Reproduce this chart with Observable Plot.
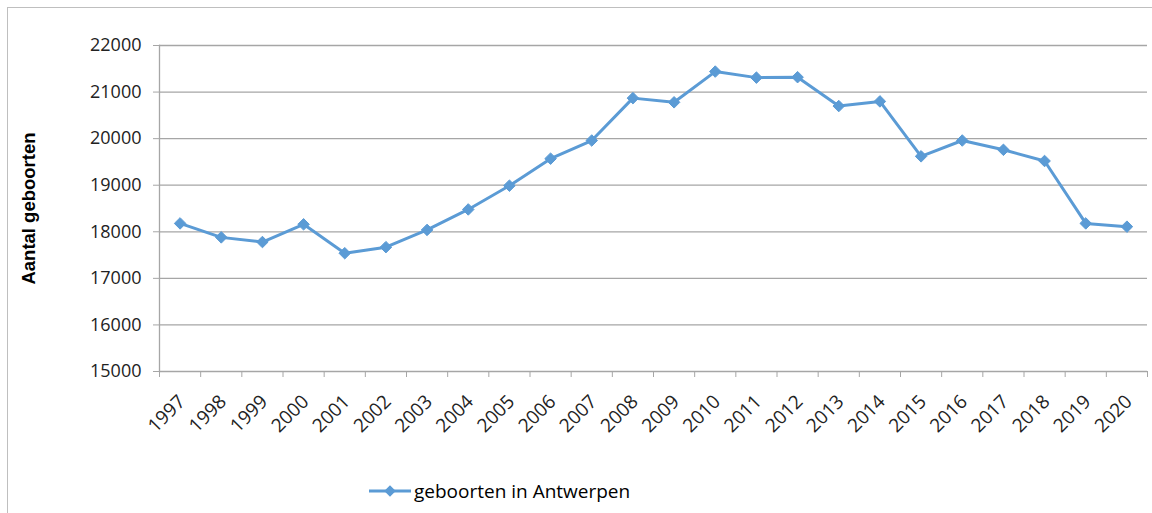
<!DOCTYPE html>
<html>
<head>
<meta charset="utf-8">
<script src="https://cdn.jsdelivr.net/npm/d3@7"></script>
<script src="https://cdn.jsdelivr.net/npm/@observablehq/plot@0.6"></script>
<style>
  html, body { margin: 0; padding: 0; background: #fff; }
  #wrap { position: relative; width: 1152px; height: 513px; overflow: hidden; }
  #frame { position: absolute; left: 7px; top: 7px; width: 1160px; height: 520px; border-left: 1.5px solid #bfbfbf; border-top: 1.5px solid #bfbfbf; box-sizing: border-box; pointer-events: none; }
  #chart { position: absolute; left: 0; top: 0; }
  #legend { position: absolute; left: 368px; top: 478px; display: flex; align-items: center; font-family: "Open Sans", sans-serif; font-size: 19px; color: #000; }
</style>
</head>
<body>
<div id="wrap">
  <div id="chart"></div>
  <div id="frame"></div>
  <div id="legend"></div>
</div>
<script>
const years = [1997, 1998, 1999, 2000, 2001, 2002, 2003, 2004, 2005, 2006, 2007, 2008,
               2009, 2010, 2011, 2012, 2013, 2014, 2015, 2016, 2017, 2018, 2019, 2020];
const births = [18180, 17880, 17780, 18160, 17540, 17670, 18040, 18480, 18990, 19570, 19960, 20870,
                20780, 21440, 21310, 21320, 20700, 20800, 19620, 19960, 19760, 19520, 18180, 18110];
const yTicks = [15000, 16000, 17000, 18000, 19000, 20000, 21000, 22000];
const seriesName = "geboorten in Antwerpen";
const yLabel = "Aantal geboorten";

const data = years.map((year, i) => ({year, value: births[i]}));
const boundaries = d3.range(years[0] - 0.5, years[years.length - 1] + 1, 1);
const blue = "#5b9bd5";
const font = "'Open Sans', sans-serif";

const chart = Plot.plot({
  width: 1152,
  height: 460,
  marginLeft: 159,
  marginRight: 5,
  marginTop: 45,
  marginBottom: 89,
  style: {fontFamily: font, fontSize: "18px", color: "#222", background: "transparent"},
  x: {type: "linear", domain: [boundaries[0], boundaries[boundaries.length - 1]]},
  y: {domain: [15000, 22000]},
  marks: [
    Plot.gridY(yTicks, {stroke: "#a6a6a6", strokeOpacity: 1, strokeWidth: 1.3}),
    Plot.frame({anchor: "left", stroke: "#a6a6a6", strokeWidth: 1.3}),
    Plot.axisY({ticks: yTicks, tickSize: 6, tickPadding: 12, stroke: "#a6a6a6", tickFormat: d => String(d), label: null, fill: "#222"}),
    Plot.axisX({ticks: boundaries, tickSize: 6, tickFormat: () => "", stroke: "#a6a6a6", label: null}),
    Plot.axisX({ticks: years, tickSize: 0, tickPadding: 27, dx: 2, tickRotate: -45, fontSize: 19, tickFormat: d => String(d), label: null, fill: "#222"}),
    Plot.text([yLabel], {frameAnchor: "left", dx: -130, rotate: -90, textAnchor: "middle", fontWeight: "bold", fontSize: 18.5, fontFamily: "'Liberation Sans', Arial, sans-serif", fill: "#000"}),
    Plot.line(data, {x: "year", y: "value", stroke: blue, strokeWidth: 3}),
    Plot.dot(data, {x: "year", y: "value", symbol: "diamond2", r: 5.2, fill: blue, stroke: blue, strokeWidth: 1})
  ]
});
document.getElementById("chart").appendChild(chart);

// legend
const legend = document.getElementById("legend");
const sw = d3.create("svg").attr("width", 44).attr("height", 16);
sw.append("line").attr("x1", 1).attr("x2", 43).attr("y1", 8).attr("y2", 8).attr("stroke", blue).attr("stroke-width", 3);
sw.append("path").attr("d", d3.symbol(d3.symbolDiamond2, Math.PI * 5.2 * 5.2)()).attr("transform", "translate(22,8)").attr("fill", blue);
legend.appendChild(sw.node());
const lt = document.createElement("span");
lt.textContent = seriesName;
lt.style.marginLeft = "2px";
legend.appendChild(lt);
</script>
</body>
</html>
